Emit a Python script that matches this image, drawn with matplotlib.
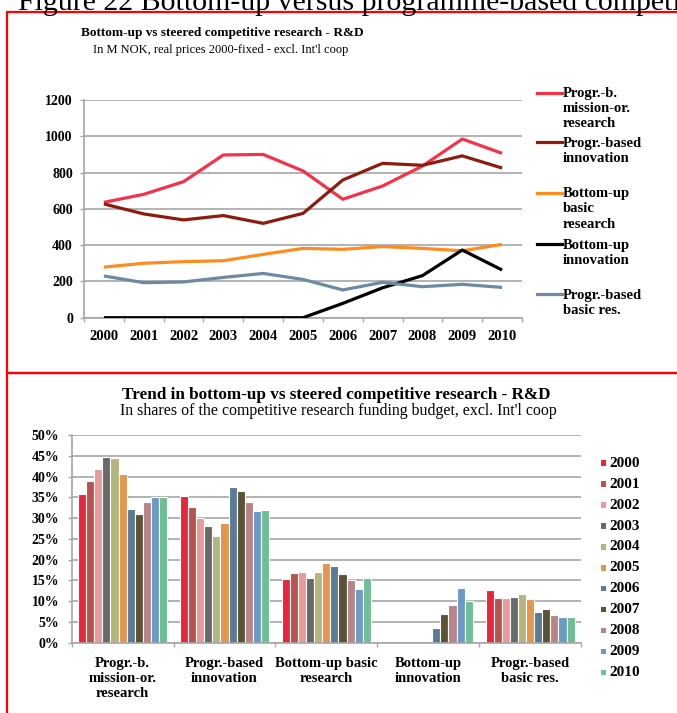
import matplotlib
matplotlib.use("Agg")
import matplotlib.pyplot as plt
import numpy as np
from matplotlib.lines import Line2D
from matplotlib.patches import Rectangle

# ---------------- data ----------------
years = ["2000", "2001", "2002", "2003", "2004", "2005",
         "2006", "2007", "2008", "2009", "2010"]

line_labels = ["Progr.-b.\nmission-or.\nresearch",
               "Progr.-based\ninnovation",
               "Bottom-up\nbasic\nresearch",
               "Bottom-up\ninnovation",
               "Progr.-based\nbasic res."]
mission = [636, 680, 750, 897, 900, 809, 653, 726, 836, 985, 906]
prog_innov = [627, 572, 539, 563, 520, 575, 759, 851, 840, 892, 825]
bu_basic = [279, 300, 309, 314, 349, 382, 377, 392, 382, 369, 404]
bu_innov = [0, 0, 0, 0, 0, 0, 79, 165, 232, 373, 263]
prog_basic = [230, 193, 197, 222, 244, 211, 153, 195, 171, 184, 167]
line_series = [mission, prog_innov, bu_basic, bu_innov, prog_basic]
line_colors = ["#F5324A", "#8F1A0E", "#FF8C1E", "#000000", "#6B8BA4"]
top_yticks = [0, 200, 400, 600, 800, 1000, 1200]

categories = ["Progr.-b.\nmission-or.\nresearch", "Progr.-based\ninnovation",
              "Bottom-up basic\nresearch", "Bottom-up\ninnovation",
              "Progr.-based\nbasic res."]
# shares (%) per year, one list per category
share_mission = [35.8, 38.9, 41.7, 44.8, 44.5, 40.7, 32.1, 31.1, 33.9, 35.0, 35.1]
share_prog_innov = [35.2, 32.6, 29.9, 28.0, 25.7, 28.9, 37.4, 36.4, 33.9, 31.7, 31.9]
share_bu_basic = [15.4, 16.8, 16.9, 15.5, 17.1, 19.1, 18.5, 16.5, 15.2, 12.9, 15.5]
share_bu_innov = [0, 0, 0, 0, 0, 0, 3.5, 6.9, 9.1, 13.2, 10.0]
share_prog_basic = [12.6, 10.8, 10.7, 10.9, 11.8, 10.4, 7.3, 8.1, 6.7, 6.2, 6.3]
shares = [share_mission, share_prog_innov, share_bu_basic, share_bu_innov, share_prog_basic]
year_colors = ["#E8253B", "#B85450", "#E89A98", "#696969", "#B5B580", "#E3964D",
               "#5A7A96", "#5C5236", "#B88389", "#6B9AC4", "#70BE96"]
bottom_yticks = [0, 5, 10, 15, 20, 25, 30, 35, 40, 45, 50]

# ---------------- figure ----------------
W, H = 677, 713
plt.rcParams['font.family'] = ['Liberation Serif', 'DejaVu Serif']
fig = plt.figure(figsize=(W / 100, H / 100), dpi=100)

def fx(x):
    return x / W

def fy(y):
    return 1 - y / H

GRID = "#A6A6A6"

# page title (cut off at top and right, as in the source page)
fig.text(fx(18), fy(10), "Figure 22 Bottom-up versus programme-based competitive research",
         fontsize=21.5, va="baseline", ha="left", color="black")

# red frames
fig.add_artist(Rectangle((fx(6.5), fy(372.5)), fx(720) - fx(6.5), fy(12) - fy(372.5),
                         transform=fig.transFigure, fill=False, edgecolor="#FF0000", lw=1.6))
fig.add_artist(Rectangle((fx(6.5), fy(730)), fx(720) - fx(6.5), fy(372.5) - fy(730),
                         transform=fig.transFigure, fill=False, edgecolor="#FF0000", lw=1.6))

# ---------------- top chart ----------------
ax1 = fig.add_axes([fx(84), fy(317.7), fx(522) - fx(84), fy(100) - fy(317.7)])
x = np.arange(len(years))
for vals, col in zip(line_series, line_colors):
    ax1.plot(x, vals, color=col, lw=2.3, zorder=3, solid_capstyle="butt")
ax1.set_xlim(-0.5, len(years) - 0.5)
ax1.set_ylim(0, 1200)
ax1.set_yticks(top_yticks)
ax1.set_yticklabels([str(v) for v in top_yticks], fontweight="bold", fontsize=10)
ax1.set_xticks(x)
ax1.set_xticklabels(years, fontweight="bold", fontsize=10.5)
ax1.set_xticks(np.arange(-0.5, len(years)), minor=True)
ax1.tick_params(axis="x", which="major", length=0, pad=9)
ax1.tick_params(axis="x", which="minor", length=3, color=GRID, width=1)
ax1.tick_params(axis="y", length=3, color=GRID, width=1, pad=5)
ax1.yaxis.grid(True, color=GRID, lw=1.2)
ax1.set_axisbelow(True)
for s in ["top", "right"]:
    ax1.spines[s].set_visible(False)
for s in ["left", "bottom"]:
    ax1.spines[s].set_color(GRID)
    ax1.spines[s].set_linewidth(1.2)

fig.text(fx(222), fy(33), "Bottom-up vs steered competitive research - R&D",
         ha="center", va="center", fontsize=9.5, fontweight="bold")
fig.text(fx(221), fy(50), "In M NOK, real prices 2000-fixed - excl. Int'l coop",
         ha="center", va="center", fontsize=9)

# manual legend (handle aligned with first text line)
handle_y = [92.7, 142, 193, 244, 294]
for lab, col, hy in zip(line_labels, line_colors, handle_y):
    fig.add_artist(Line2D([fx(537), fx(562)], [fy(hy), fy(hy)], color=col, lw=2.3,
                          transform=fig.transFigure))
    fig.text(fx(563), fy(hy - 5.5), lab, ha="left", va="top", fontsize=10.5,
             fontweight="bold", linespacing=1.2)

# ---------------- bottom chart ----------------
ax2 = fig.add_axes([fx(71.7), fy(642.7), fx(581) - fx(71.7), fy(435) - fy(642.7)])
cx = np.arange(len(categories))
bw = 0.0795
n = len(years)
for j, (yr, col) in enumerate(zip(years, year_colors)):
    vals = [shares[i][j] for i in range(len(categories))]
    ax2.bar(cx + (j - (n - 1) / 2) * bw, vals, width=bw, color=col,
            edgecolor="white", linewidth=0.8, zorder=2)
ax2.set_xlim(-0.5, len(categories) - 0.5)
ax2.set_ylim(0, 50)
ax2.set_yticks(bottom_yticks)
ax2.set_yticklabels([f"{v}%" for v in bottom_yticks], fontweight="bold", fontsize=10)
ax2.set_xticks(cx)
ax2.set_xticklabels(categories, fontweight="bold", fontsize=10.5, linespacing=1.2)
ax2.set_xticks(np.arange(-0.5, len(categories)), minor=True)
ax2.tick_params(axis="x", which="major", length=0, pad=10)
ax2.tick_params(axis="x", which="minor", length=3, color=GRID, width=1)
ax2.tick_params(axis="y", length=3, color=GRID, width=1, pad=6)
ax2.yaxis.grid(True, color=GRID, lw=1.2, zorder=0)
ax2.set_axisbelow(True)
for s in ["top", "right"]:
    ax2.spines[s].set_visible(False)
for s in ["left", "bottom"]:
    ax2.spines[s].set_color(GRID)
    ax2.spines[s].set_linewidth(1.2)
    ax2.spines[s].set_zorder(3)

fig.text(fx(336), fy(395), "Trend in bottom-up vs steered competitive research - R&D",
         ha="center", va="center", fontsize=12.3, fontweight="bold")
fig.text(fx(338), fy(411), "In shares of the competitive research funding budget, excl. Int'l coop",
         ha="center", va="center", fontsize=11.4)

# year legend
for j, (yr, col) in enumerate(zip(years, year_colors)):
    yc = 463.3 + j * 20.9
    fig.add_artist(Rectangle((fx(600.5), fy(yc + 2.7)), fx(5.5), fy(0) - fy(5.5),
                             transform=fig.transFigure, facecolor=col, edgecolor="none"))
    fig.text(fx(609), fy(yc), yr, ha="left", va="center", fontsize=11, fontweight="bold")

fig.savefig("out.png", dpi=100)
